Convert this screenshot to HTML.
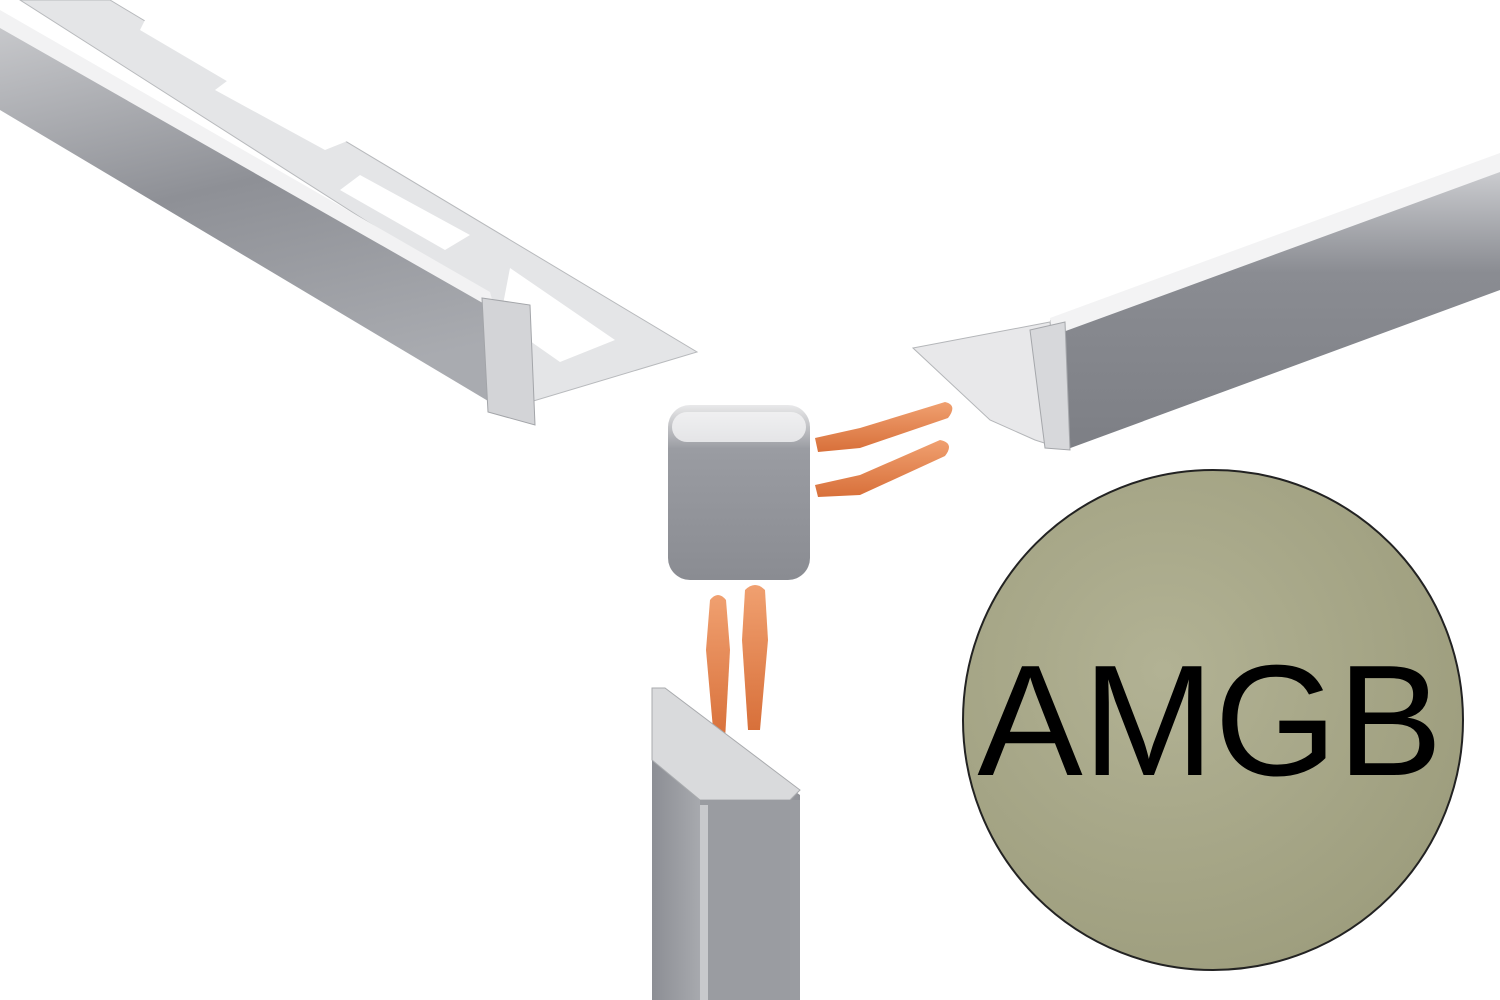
<!DOCTYPE html>
<html><head><meta charset="utf-8"><style>
html,body{margin:0;padding:0;background:#fff;width:1500px;height:1000px;overflow:hidden}
</style></head><body>
<svg width="1500" height="1000" viewBox="0 0 1500 1000" xmlns="http://www.w3.org/2000/svg">
<defs>
<linearGradient id="gface" x1="0" y1="0" x2="0.3" y2="1">
<stop offset="0" stop-color="#c9cacd"/><stop offset="0.5" stop-color="#8e9096"/><stop offset="1" stop-color="#a9abb0"/></linearGradient>
<linearGradient id="gface2" x1="0" y1="0" x2="0" y2="1">
<stop offset="0" stop-color="#d5d6d9"/><stop offset="0.4" stop-color="#8a8c92"/><stop offset="1" stop-color="#7d7f85"/></linearGradient>
<linearGradient id="gcap" x1="0" y1="0" x2="0" y2="1">
<stop offset="0" stop-color="#e9e9ea"/><stop offset="0.25" stop-color="#9a9ca2"/><stop offset="1" stop-color="#8a8c92"/></linearGradient>
<linearGradient id="gvert" x1="0" y1="0" x2="1" y2="0">
<stop offset="0" stop-color="#8c8e94"/><stop offset="0.5" stop-color="#b6b8bc"/><stop offset="1" stop-color="#909298"/></linearGradient>
<radialGradient id="gcirc" cx="0.4" cy="0.4" r="0.7">
<stop offset="0" stop-color="#b2b294"/><stop offset="1" stop-color="#9c9c7c"/></radialGradient>
<linearGradient id="gpin" x1="0" y1="0" x2="0" y2="1">
<stop offset="0" stop-color="#f0a070"/><stop offset="1" stop-color="#d8703a"/></linearGradient>
</defs>

<!-- top-left profile -->
<polygon points="20,0 110,0 697,352 520,405 490,300" fill="#e4e5e7" stroke="#b8babd"/>
<polygon points="150,10 330,115 310,130 140,30" fill="#fff"/>
<polygon points="235,75 350,140 325,150 215,90" fill="#fff"/>
<polygon points="360,175 470,235 445,250 340,190" fill="#fff"/>
<polygon points="510,268 615,340 560,362 500,320" fill="#fff"/>
<polygon points="0,20 490,300 520,420 0,110" fill="url(#gface)"/>
<polygon points="0,10 490,292 495,310 0,28" fill="#f2f2f3"/>
<polygon points="482,298 530,305 535,425 488,412" fill="#d3d4d7" stroke="#a3a5a9"/>

<!-- top-right profile -->
<polygon points="913,348 1050,322 1060,448 1035,440 990,420" fill="#e8e8ea" stroke="#b4b6b9"/>
<polygon points="1050,320 1500,155 1500,290 1065,450" fill="url(#gface2)"/>
<polygon points="1050,318 1500,153 1500,172 1052,336" fill="#f3f3f4"/>
<polygon points="1030,330 1065,322 1070,450 1045,448" fill="#d7d8db" stroke="#a5a7ab"/>

<!-- end cap -->
<rect x="668" y="405" width="142" height="175" rx="22" fill="url(#gcap)"/>
<rect x="672" y="412" width="134" height="30" rx="15" fill="#f4f4f5" opacity="0.8"/>

<!-- pins horizontal -->
<path d="M815,438 L860,428 L945,402 Q958,405 948,418 L860,448 L818,452 Z" fill="url(#gpin)"/>
<path d="M815,485 L860,475 L940,440 Q955,443 945,456 L860,495 L818,497 Z" fill="url(#gpin)"/>
<!-- pins vertical -->
<path d="M710,600 Q718,590 726,600 L730,650 L725,740 L714,740 L706,650 Z" fill="url(#gpin)"/>
<path d="M745,590 Q755,580 765,590 L768,640 L760,730 L748,730 L742,640 Z" fill="url(#gpin)"/>

<!-- vertical profile -->
<polygon points="652,688 800,795 800,1000 652,1000" fill="url(#gvert)"/>
<polygon points="652,688 665,688 800,790 790,800 700,800 652,760" fill="#d9dadc" stroke="#a9abae"/>
<rect x="700" y="800" width="100" height="200" fill="#9a9ca1"/>
<rect x="700" y="805" width="8" height="195" fill="#c8c9cc"/>

<!-- swatch -->
<circle cx="1213" cy="720" r="250" fill="url(#gcirc)" stroke="#222" stroke-width="2"/>
<text x="1210" y="775" text-anchor="middle" font-family="Liberation Sans, sans-serif" font-size="158" fill="#000">AMGB</text>
</svg>
</body></html>
